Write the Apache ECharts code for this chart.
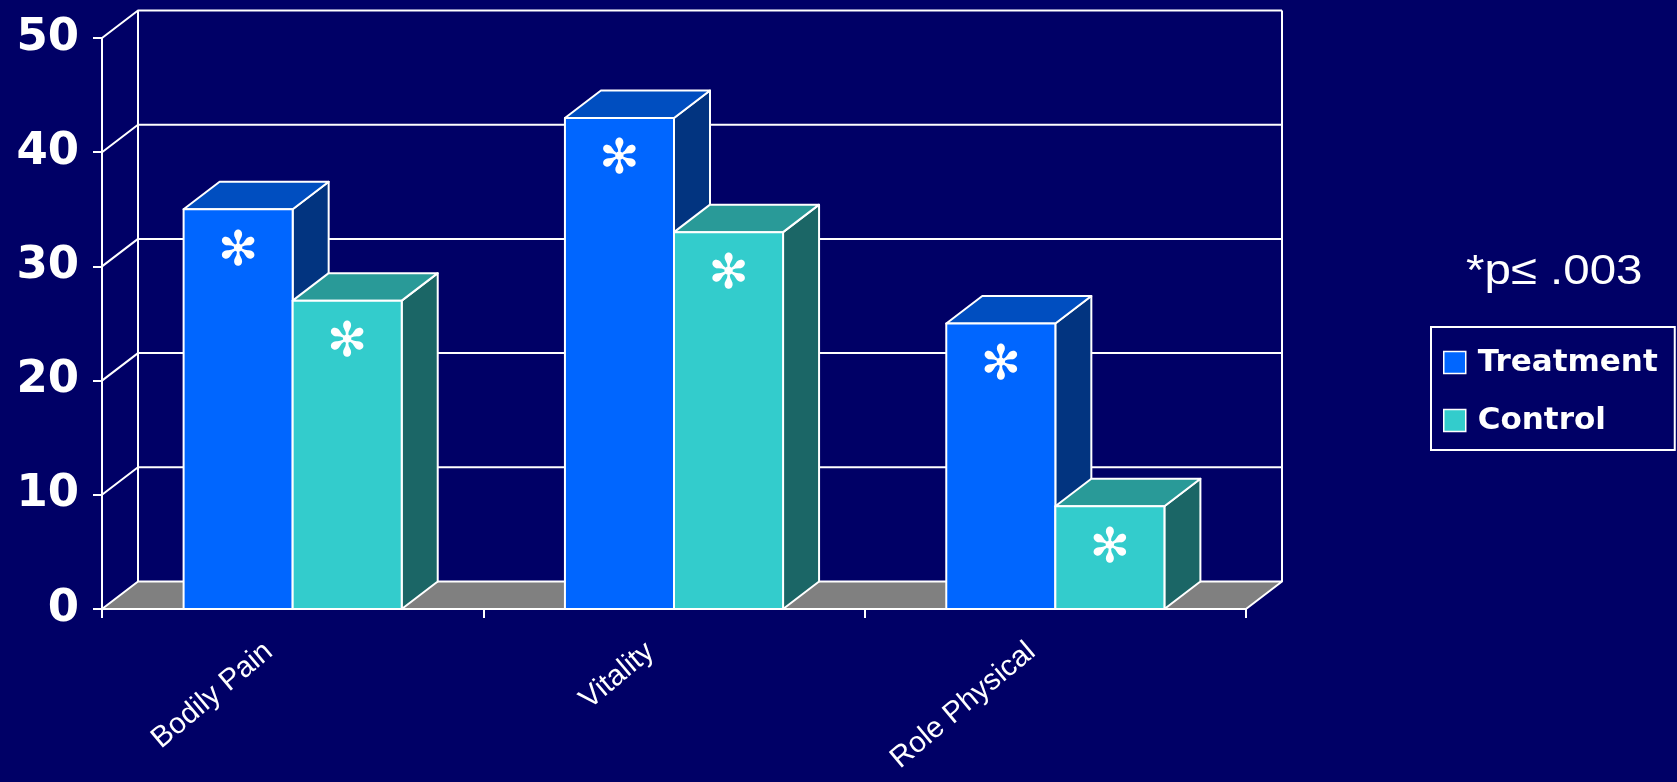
<!DOCTYPE html>
<html><head><meta charset="utf-8">
<script src="https://cdn.jsdelivr.net/npm/echarts@6/dist/echarts.min.js"></script>
<style>html,body{margin:0;padding:0;background:#000066;overflow:hidden}#c{width:1677px;height:782px}</style>
</head><body><div id="c"></div>
<script>
const categories = ['Bodily Pain', 'Vitality', 'Role Physical'];
const treatment = [35, 43, 25];
const control = [27, 33, 9];
const yTicks = [0, 10, 20, 30, 40, 50];
const seriesNames = ['Treatment', 'Control'];
const note = '*p\u2264 .003';

const DX = 36, DY = -27.5;
const BAR_FRAC = 0.286;
const colors = {
  Treatment: {front: '#0066FF', top: '#004EC0', side: '#023480'},
  Control: {front: '#33CCCC', top: '#299A98', side: '#1B6666'}
};
const LS = {stroke: '#ffffff', lineWidth: 2, lineJoin: 'round'};

function barRender(which) {
  return function (params, api) {
    const i = api.value(0), v = api.value(1);
    const base = api.coord([i, 0]);
    const topP = api.coord([i, v]);
    const bw = api.size([1, 0])[0] * BAR_FRAC;
    const x0 = which === 0 ? base[0] - bw : base[0];
    const x1 = x0 + bw;
    const yb = base[1], yt = topP[1];
    const c = colors[seriesNames[which]];
    return {type: 'group', children: [
      {type: 'polygon', shape: {points: [[x1, yb], [x1 + DX, yb + DY], [x1 + DX, yt + DY], [x1, yt]]}, style: Object.assign({fill: c.side}, LS)},
      {type: 'polygon', shape: {points: [[x0, yt], [x0 + DX, yt + DY], [x1 + DX, yt + DY], [x1, yt]]}, style: Object.assign({fill: c.top}, LS)},
      {type: 'rect', shape: {x: x0, y: yt, width: bw, height: yb - yt}, style: Object.assign({fill: c.front}, LS)},
      {type: 'text', x: (x0 + x1) / 2, y: yt + 43, style: {text: '\u273B', fill: '#ffffff', font: '48px "DejaVu Sans"', align: 'center', verticalAlign: 'middle'}}
    ]};
  };
}

function wallRender(params, api) {
  const v = api.value(1);
  const p = api.coord([0, v]);
  const bw = api.size([1, 0])[0];
  const xl = p[0] - bw / 2;
  const xr = xl + bw * categories.length;
  const y = p[1];
  const y0 = api.coord([0, yTicks[0]])[1];
  const ch = [];
  if (v === yTicks[0]) {
    ch.push({type: 'polygon', shape: {points: [[xl, y], [xr, y], [xr + DX, y + DY], [xl + DX, y + DY]]}, style: Object.assign({fill: '#808080'}, LS)});
  } else {
    ch.push({type: 'polyline', shape: {points: [[xl, y], [xl + DX, y + DY], [xr + DX, y + DY]]}, style: Object.assign({fill: null}, LS)});
  }
  if (v === yTicks[yTicks.length - 1]) {
    ch.push({type: 'line', shape: {x1: xl + DX, y1: y + DY, x2: xl + DX, y2: y0 + DY}, style: LS});
    ch.push({type: 'line', shape: {x1: xr + DX, y1: y + DY, x2: xr + DX, y2: y0 + DY}, style: LS});
  }
  return {type: 'group', children: ch};
}

const chart = echarts.init(document.getElementById('c'));
chart.setOption({
  backgroundColor: '#000066',
  animation: false,
  grid: {left: 102, right: 431, top: 38, bottom: 173, containLabel: false, outerBoundsMode: 'none'},
  xAxis: {
    type: 'category', data: categories,
    axisLine: {lineStyle: {color: '#ffffff', width: 2}},
    axisTick: {show: true, length: 9, lineStyle: {color: '#ffffff', width: 2}},
    axisLabel: {color: '#ffffff', rotate: 40, fontSize: 29.5, fontFamily: 'Liberation Sans', margin: 19, padding: [0, 31, 0, 0]}
  },
  yAxis: {
    type: 'value', min: yTicks[0], max: yTicks[yTicks.length - 1], interval: 10,
    axisLine: {show: true, lineStyle: {color: '#ffffff', width: 2}},
    axisTick: {show: true, length: 9, lineStyle: {color: '#ffffff', width: 2}},
    splitLine: {show: false},
    axisLabel: {color: '#ffffff', fontSize: 45, fontWeight: 'bold', fontFamily: 'DejaVu Sans', margin: 23}
  },
  legend: {
    data: [
      {name: 'Treatment', itemStyle: {color: colors.Treatment.front, borderColor: '#ffffff', borderWidth: 1.5}},
      {name: 'Control', itemStyle: {color: colors.Control.front, borderColor: '#ffffff', borderWidth: 1.5}}
    ],
    orient: 'vertical', left: 1431, top: 327, padding: [20, 17, 14, 12],
    itemWidth: 22, itemHeight: 22, itemGap: 27, icon: 'rect',
    borderColor: '#ffffff', borderWidth: 2,
    textStyle: {color: '#ffffff', fontSize: 31, fontWeight: 'bold', fontFamily: 'DejaVu Sans', padding: [0, 0, 0, 7]}
  },
  graphic: [{type: 'text', x: 1466, y: 272, scaleX: 1.13, style: {text: note, fill: '#ffffff', font: '42px "Liberation Sans"', verticalAlign: 'middle'}}],
  series: [
    {type: 'custom', name: '_wall', data: yTicks.map(t => [0, t]), renderItem: wallRender, clip: false, silent: true, z: 1},
    {type: 'custom', name: seriesNames[0], data: treatment.map((v, i) => [i, v]), renderItem: barRender(0), clip: false, itemStyle: {color: colors.Treatment.front}, z: 2},
    {type: 'custom', name: seriesNames[1], data: control.map((v, i) => [i, v]), renderItem: barRender(1), clip: false, itemStyle: {color: colors.Control.front}, z: 2}
  ]
});
</script></body></html>
